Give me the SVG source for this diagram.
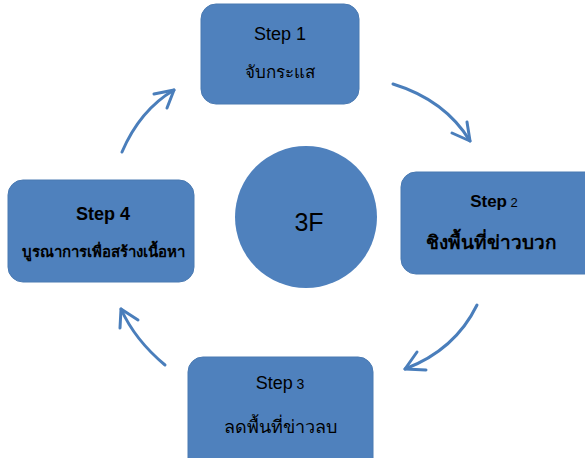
<svg xmlns="http://www.w3.org/2000/svg" width="585" height="458" viewBox="0 0 585 458">
<defs>
<style>
.box{fill:#4F81BD;stroke:#4A7AB2;stroke-width:1}
.t{font-family:"Liberation Sans","Noto Sans",sans-serif;fill:#000;text-anchor:middle}
.arr{fill:none;stroke:#4A7EBB;stroke-width:3;stroke-linecap:round;stroke-linejoin:round}
</style>
</defs>
<rect x="0" y="0" width="585" height="458" fill="#fff"/>
<g id="connectors">
<path class="arr" d="M393,84 Q445,100 470,141"/>
<path class="arr" d="M467,122 L470,141 L452,133"/>
<path class="arr" d="M477,305 Q455,350 405,369"/>
<path class="arr" d="M417,352 L405,369 L426,370"/>
<path class="arr" d="M165,365 Q135,340 121,309"/>
<path class="arr" d="M120,328 L121,309 L138,320"/>
<path class="arr" d="M122,152 Q140,110 174,90"/>
<path class="arr" d="M154,94 L174,90 L167,108"/>
</g>
<g id="center">
<circle cx="306" cy="217" r="71" fill="#4F81BD"/>
<text class="t" x="309" y="231" font-size="25">3F</text>
</g>
<g id="step1">
<rect class="box" x="201" y="4" width="158" height="100" rx="15"/>
<text class="t" x="280" y="40" font-size="18">Step 1</text>
<text class="t" x="280" y="78" font-size="17">จับกระแส</text>
</g>
<g id="step2">
<rect class="box" x="401" y="172" width="200" height="102" rx="15"/>
<text class="t" x="494" y="207" font-size="17"><tspan font-weight="bold">Step</tspan><tspan font-size="13"> 2</tspan></text>
<text class="t" x="491" y="249" font-size="19" font-weight="bold">ชิงพื้นที่ข่าวบวก</text>
</g>
<g id="step3">
<rect class="box" x="188" y="357" width="185" height="120" rx="15"/>
<text class="t" x="280" y="389" font-size="18">Step<tspan font-size="14"> 3</tspan></text>
<text class="t" x="280" y="433" font-size="18">ลดพื้นที่ข่าวลบ</text>
</g>
<g id="step4">
<rect class="box" x="8" y="180" width="186" height="102" rx="15"/>
<text class="t" x="103" y="220" font-size="18" font-weight="bold">Step 4</text>
<text class="t" x="103" y="257" font-size="15" font-weight="bold">บูรณาการเพื่อสร้างเนื้อหา</text>
</g>
</svg>
